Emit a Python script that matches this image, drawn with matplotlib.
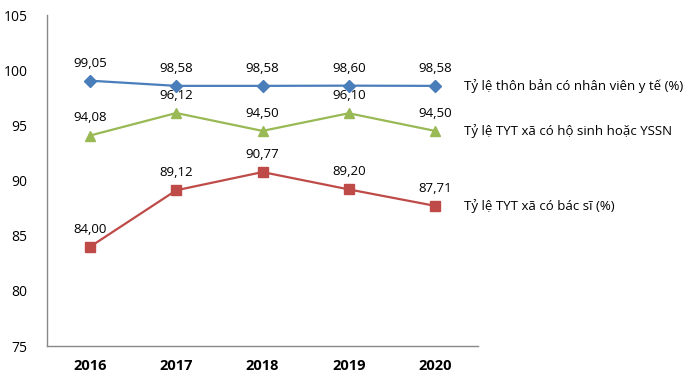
import matplotlib
matplotlib.use("Agg")
import matplotlib.pyplot as plt

years = ["2016", "2017", "2018", "2019", "2020"]
thon_ban = [99.05, 98.58, 98.58, 98.60, 98.58]
ho_sinh = [94.08, 96.12, 94.50, 96.10, 94.50]
bac_si = [84.00, 89.12, 90.77, 89.20, 87.71]
series_names = ["Tỷ lệ thôn bản có nhân viên y tế (%)",
                "Tỷ lệ TYT xã có hộ sinh hoặc YSSN",
                "Tỷ lệ TYT xã có bác sĩ (%)"]
y_ticks = [75, 80, 85, 90, 95, 100, 105]

plt.rcParams['font.family'] = ['Open Sans', 'DejaVu Sans']

fig = plt.figure(figsize=(7, 3.85), dpi=100)
ax = fig.add_axes([0.067, 0.101, 0.616, 0.86])

x = [i + 0.5 for i in range(len(years))]
specs = [(thon_ban, "#4A7EBB", "D", 6),
         (ho_sinh, "#98B954", "^", 7.5),
         (bac_si, "#BE4B48", "s", 6.5)]
for (vals, col, mk, ms), name in zip(specs, series_names):
    ax.plot(x, vals, color=col, marker=mk, markersize=ms, linewidth=1.6, clip_on=False)
    for xi, v in zip(x, vals):
        ax.annotate(f"{v:.2f}".replace(".", ","), (xi, v), xytext=(0, 8),
                    textcoords="offset points", ha="center", va="bottom", fontsize=9.5)
    ax.annotate(name, (x[-1], vals[-1]), xytext=(21, 0), textcoords="offset points",
                ha="left", va="center", fontsize=9.5, annotation_clip=False)

ax.set_xlim(0, 5)
ax.set_ylim(75, 105)
ax.set_yticks(y_ticks)
ax.set_yticklabels([str(t) for t in y_ticks], fontsize=10)
ax.set_xticks(x)
ax.set_xticklabels(years, fontsize=10.5, fontweight="bold")
ax.tick_params(axis="both", length=0)
ax.tick_params(axis="x", pad=9)
ax.tick_params(axis="y", pad=14)
for s in ["top", "right"]:
    ax.spines[s].set_visible(False)
for s in ["left", "bottom"]:
    ax.spines[s].set_color("#888888")
    ax.spines[s].set_linewidth(1)

fig.savefig("out.png", dpi=100)
